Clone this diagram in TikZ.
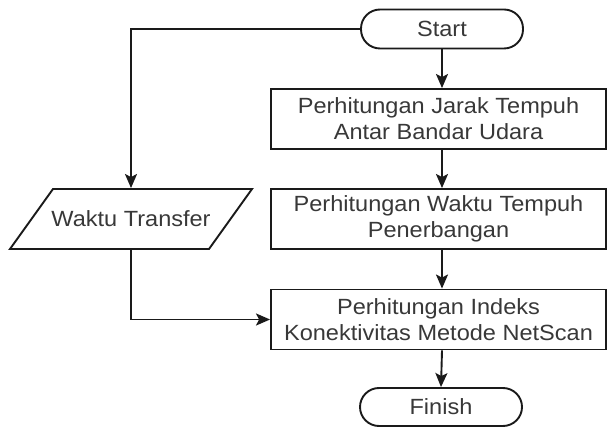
\documentclass[tikz,border=0pt]{standalone}
\usepackage{fontspec}
\setmainfont{Liberation Sans}[FakeStretch=1.07]
\usetikzlibrary{arrows.meta}
\definecolor{ln}{HTML}{1A1A1A}
\definecolor{tx}{HTML}{383838}
\tikzset{
  base/.style={draw=ln, line width=1.9pt, text=tx, align=center, inner sep=0pt,
    font=\fontsize{22}{26}\selectfont},
  term/.style={base, rectangle, rounded corners=19pt, minimum width=162pt, minimum height=39pt},
  procbox/.style={base, rectangle, minimum width=335pt, minimum height=60pt},
  iotext/.style={base, draw=none, rectangle, minimum width=242pt, minimum height=60pt},
  conn/.style={draw=ln, line width=1.9pt, -{Stealth[length=14pt,width=12pt,inset=3pt]}}
}
\begin{document}
\begin{tikzpicture}[x=1pt,y=1pt]
\useasboundingbox (0,0) rectangle (607,-427);
\node[term] (start) at (442,-29) {Start};
\node[procbox] (b1) at (438.5,-119) {Perhitungan Jarak Tempuh\\Antar Bandar Udara};
\node[procbox] (b2) at (438.5,-219) {Perhitungan Waktu Tempuh\\Penerbangan};
\node[procbox] (b3) at (438.5,-319.5) {Perhitungan Indeks\\Konektivitas Metode NetScan};
\node[term, minimum height=38pt] (finish) at (441,-407) {Finish};
\node[iotext] (wt) at (131,-219) {Waktu Transfer};
\draw[draw=ln, line width=1.9pt, line join=miter]
  (wt.center) ++(-78,30) -- ++(199,0) -- ++(-43,-60) -- ++(-199,0) -- cycle;
\draw[conn] (start.south) -- (start.south |- b1.north);
\draw[conn] (start.south |- b1.south) -- (start.south |- b2.north);
\draw[conn] (start.south |- b2.south) -- (start.south |- b3.north);
\draw[conn] (start.south |- b3.south) -- (finish.north);
\draw[conn] (start.west) -| (wt.north);
\draw[conn] (wt.south) |- (b3.west);
\end{tikzpicture}
\end{document}
